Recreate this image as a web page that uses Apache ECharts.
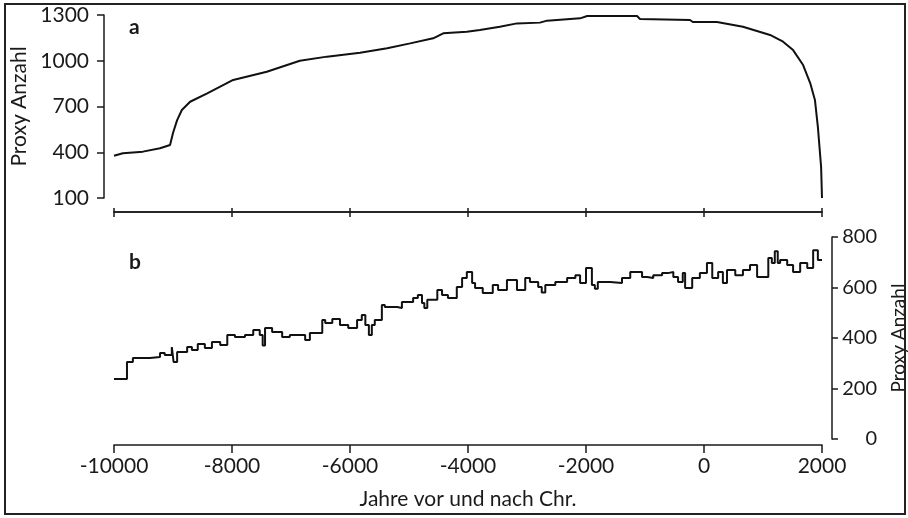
<!DOCTYPE html>
<html>
<head>
<meta charset="utf-8">
<script src="https://cdn.jsdelivr.net/npm/echarts@6/dist/echarts.min.js"></script>
<style>html,body{margin:0;padding:0;background:#fff}#c{width:908px;height:518px}</style>
</head>
<body>
<div id="c"></div>
<script>
// Panel a: cumulative proxy count
const yearsA = [-10000,-9850,-9510,-9220,-9050,-9000,-8930,-8850,-8710,-8420,-7980,-7410,-6850,-6390,-5830,-5370,-4980,-4590,-4420,-4020,-3800,-3460,-3170,-2780,-2660,-2100,-1980,-1135,-1085,-237,-190,220,660,1120,1340,1510,1680,1800,1880,1930,1985,2000];
const valuesA = [377,393,404,426,448,526,611,677,731,786,874,928,1000,1027,1053,1082,1114,1147,1180,1190,1202,1223,1245,1250,1263,1278,1293,1293,1274,1267,1254,1254,1223,1169,1125,1070,972,854,743,566,303,100];

// Panel b: proxies per interval (step series; each value holds until next year)
const yearsB = [-10000,-9780,-9680,-9390,-9220,-9140,-9020,-8990,-8930,-8760,-8680,-8580,-8460,-8340,-8200,-8080,-7950,-7780,-7640,-7530,-7480,-7440,-7320,-7150,-7020,-6760,-6680,-6470,-6420,-6300,-6170,-6030,-5880,-5800,-5740,-5680,-5630,-5580,-5460,-5410,-5200,-5120,-4930,-4850,-4780,-4740,-4690,-4520,-4440,-4340,-4190,-4100,-4020,-3930,-3880,-3750,-3580,-3490,-3340,-3170,-3030,-2950,-2810,-2750,-2690,-2520,-2320,-2180,-2100,-2000,-1900,-1850,-1800,-1590,-1390,-1250,-1050,-960,-860,-710,-610,-520,-440,-360,-320,-200,-70,50,140,240,320,390,530,660,780,900,1090,1150,1200,1250,1290,1410,1510,1630,1750,1850,1930,2000];
const valuesB = [238,305,321,325,341,333,364,305,345,364,352,376,360,384,372,412,404,412,432,412,370,440,424,404,412,392,420,471,459,475,451,440,471,491,451,412,451,471,531,523,519,543,558,570,539,519,551,590,570,558,602,638,661,618,598,578,610,590,630,590,638,622,602,580,610,622,638,649,618,677,610,595,622,618,638,661,642,638,649,657,661,642,622,657,598,638,657,697,638,661,618,669,649,669,689,642,717,697,744,697,709,689,661,697,677,748,709,709];

// Axis ticks
const xMin = -10000, xMax = 2000, xStep = 2000;
const yAMin = 100, yAMax = 1300, yAStep = 300;
const yBMin = 0, yBMax = 800, yBStep = 200;

const FONT = 'Lato';
const FS = 21;
const INK = '#1a1a1a';
const plain = v => String(v);
const chart = echarts.init(document.getElementById('c'), null, {renderer: 'canvas'});

const dataA = yearsA.map((y, i) => [y, valuesA[i]]);
const dataB = yearsB.map((y, i) => [y, valuesB[i]]);

const baseX = {
  type: 'value', min: xMin, max: xMax, interval: xStep,
  splitLine: {show: false},
  axisLine: {show: true, onZero: false, lineStyle: {color: INK, width: 1.5}}
};

chart.setOption({
  animation: false,
  backgroundColor: '#fff',
  grid: [
    {left: 114, top: 15, width: 708, height: 183, containLabel: false, outerBoundsMode: 'none'},
    {left: 114, top: 237, width: 708, height: 202, containLabel: false, outerBoundsMode: 'none'}
  ],
  xAxis: [
    Object.assign({}, baseX, {gridIndex: 0, position: 'bottom', offset: 14,
      axisTick: {show: true, inside: true, length: 4, lineStyle: {color: INK, width: 1.5}},
      axisLabel: {show: false}}),
    Object.assign({}, baseX, {gridIndex: 0, position: 'bottom', offset: 14,
      axisTick: {show: true, inside: false, length: 5, lineStyle: {color: INK, width: 1.5}},
      axisLabel: {show: false}}),
    Object.assign({}, baseX, {gridIndex: 1, position: 'bottom', offset: 6,
      axisTick: {show: true, length: 8, lineStyle: {color: INK, width: 1.5}},
      axisLabel: {show: true, margin: 11, fontFamily: FONT, fontSize: FS, color: INK, formatter: plain},
      name: 'Jahre vor und nach Chr.', nameLocation: 'middle', nameGap: 44,
      nameTextStyle: {fontFamily: FONT, fontSize: FS, color: INK}})
  ],
  yAxis: [
    {type: 'value', gridIndex: 0, position: 'left', offset: 10,
      min: yAMin, max: yAMax, interval: yAStep,
      splitLine: {show: false},
      axisLine: {show: true, onZero: false, lineStyle: {color: INK, width: 1.5}},
      axisTick: {show: true, length: 7, lineStyle: {color: INK, width: 1.5}},
      axisLabel: {margin: 15, fontFamily: FONT, fontSize: FS, color: INK, formatter: plain},
      name: 'Proxy Anzahl', nameLocation: 'middle', nameGap: 72, nameRotate: 90,
      nameTextStyle: {fontFamily: FONT, fontSize: FS, color: INK}},
    {type: 'value', gridIndex: 1, position: 'right', offset: 10,
      min: yBMin, max: yBMax, interval: yBStep,
      splitLine: {show: false},
      axisLine: {show: true, onZero: false, lineStyle: {color: INK, width: 1.5}},
      axisTick: {show: true, length: 6, lineStyle: {color: INK, width: 1.5}},
      axisLabel: {margin: 45, align: 'right', fontFamily: FONT, fontSize: 20, color: INK, formatter: plain},
      name: 'Proxy Anzahl', nameLocation: 'middle', nameGap: 57, nameRotate: 90,
      nameTextStyle: {fontFamily: FONT, fontSize: 19, color: INK}}
  ],
  series: [
    {type: 'line', xAxisIndex: 0, yAxisIndex: 0, data: dataA, showSymbol: false,
      lineStyle: {color: '#111', width: 2}},
    {type: 'line', xAxisIndex: 2, yAxisIndex: 1, data: dataB, step: 'end', showSymbol: false,
      lineStyle: {color: '#111', width: 2}}
  ],
  graphic: [
    {type: 'rect', shape: {x: 5, y: 4, width: 900, height: 510},
      style: {fill: 'none', stroke: '#222', lineWidth: 2}, z: 100},
    {type: 'text', left: 129, top: 17,
      style: {text: 'a', font: 'bold 21px ' + FONT, fill: INK}},
    {type: 'text', left: 129, top: 252,
      style: {text: 'b', font: 'bold 21px ' + FONT, fill: INK}}
  ]
});
</script>
</body>
</html>
